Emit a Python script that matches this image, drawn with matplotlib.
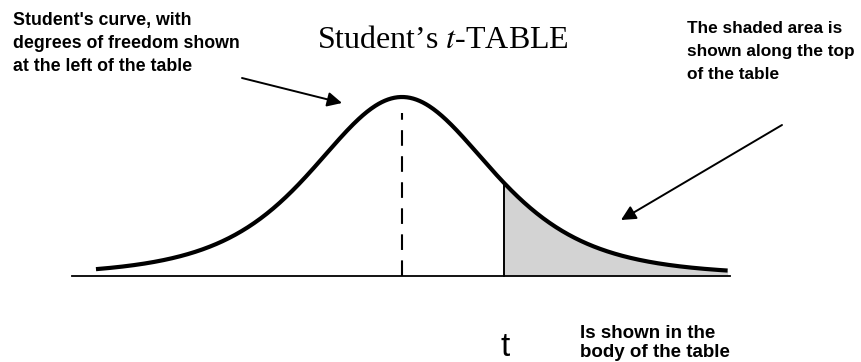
import numpy as np
import matplotlib.pyplot as plt
from math import gamma, sqrt, pi

plt.rcParams['font.family'] = ['Liberation Sans', 'DejaVu Sans']
plt.rcParams['mathtext.fontset'] = 'stix'

W, H = 862, 362

# curve parameters
dof = 4
t_left, t_right = -3.28, 3.49
t_cut = 1.09
base_left, base_right = -3.54, 3.52

title = "Student\u2019s $\\mathit{t}$-TABLE"
left_note = ["Student's curve, with", "degrees of freedom shown", "at the left of the table"]
right_note = ["The shaded area is", "shown along the top", "of the table"]
body_note = ["Is shown in the", "body of the table"]


def t_pdf(x, nu):
    c = gamma((nu + 1) / 2) / (sqrt(nu * pi) * gamma(nu / 2))
    return c * (1 + x ** 2 / nu) ** (-(nu + 1) / 2)


def fp(x, y):
    # pixel position (from top-left) -> figure fraction
    return x / W, 1 - y / H


fig = plt.figure(figsize=(W / 100, H / 100), dpi=100)
ax = fig.add_axes([0, 0, 1, 1])

# pixel layout of the plot: peak at x=402, baseline y=276, peak height 179px
cx, by, xs = 402, 276, 93.3
ys = 179 / t_pdf(0, dof)
ax.set_xlim(-cx / xs, (W - cx) / xs)
ax.set_ylim(-(H - by) / ys, by / ys)
ax.axis('off')

x = np.linspace(t_left, t_right, 600)
y = t_pdf(x, dof)

xt = x[x >= t_cut]
ax.fill_between(xt, 0, t_pdf(xt, dof), color='#d3d3d3', lw=0)
ax.plot([base_left, base_right], [0, 0], color='black', lw=1.3)
ax.plot(x, y, color='black', lw=3, solid_capstyle='butt')
ax.plot([t_cut, t_cut], [0, t_pdf(t_cut, dof)], color='black', lw=1.4)
ax.plot([0, 0], [0, t_pdf(0, dof) * 0.91], color='black', lw=1.5, dashes=(7.5, 5))

fig.text(*fp(443, 48), title, family='Liberation Serif', fontsize=23,
         ha='center', va='baseline')

for i, s in enumerate(left_note):
    fig.text(*fp(13, 25 + 23 * i), s, fontsize=12.8, fontweight='bold',
             ha='left', va='baseline')
for i, s in enumerate(right_note):
    fig.text(*fp(687, 33 + 23 * i), s, fontsize=12.4, fontweight='bold',
             ha='left', va='baseline')
for i, s in enumerate(body_note):
    fig.text(*fp(580, 338 + 19 * i), s, fontsize=13.5, fontweight='bold',
             ha='left', va='baseline')
fig.text(*fp(501, 356), "t", fontsize=24, ha='left', va='baseline')

arrow = dict(arrowstyle='-|>', color='black', lw=1.4, mutation_scale=22,
             shrinkA=0, shrinkB=0)
ax.annotate('', xy=fp(342, 103), xytext=fp(242, 78),
            xycoords='figure fraction', textcoords='figure fraction', arrowprops=arrow)
ax.annotate('', xy=fp(621, 220), xytext=fp(782, 125),
            xycoords='figure fraction', textcoords='figure fraction', arrowprops=arrow)

fig.savefig('out.png', dpi=100)
